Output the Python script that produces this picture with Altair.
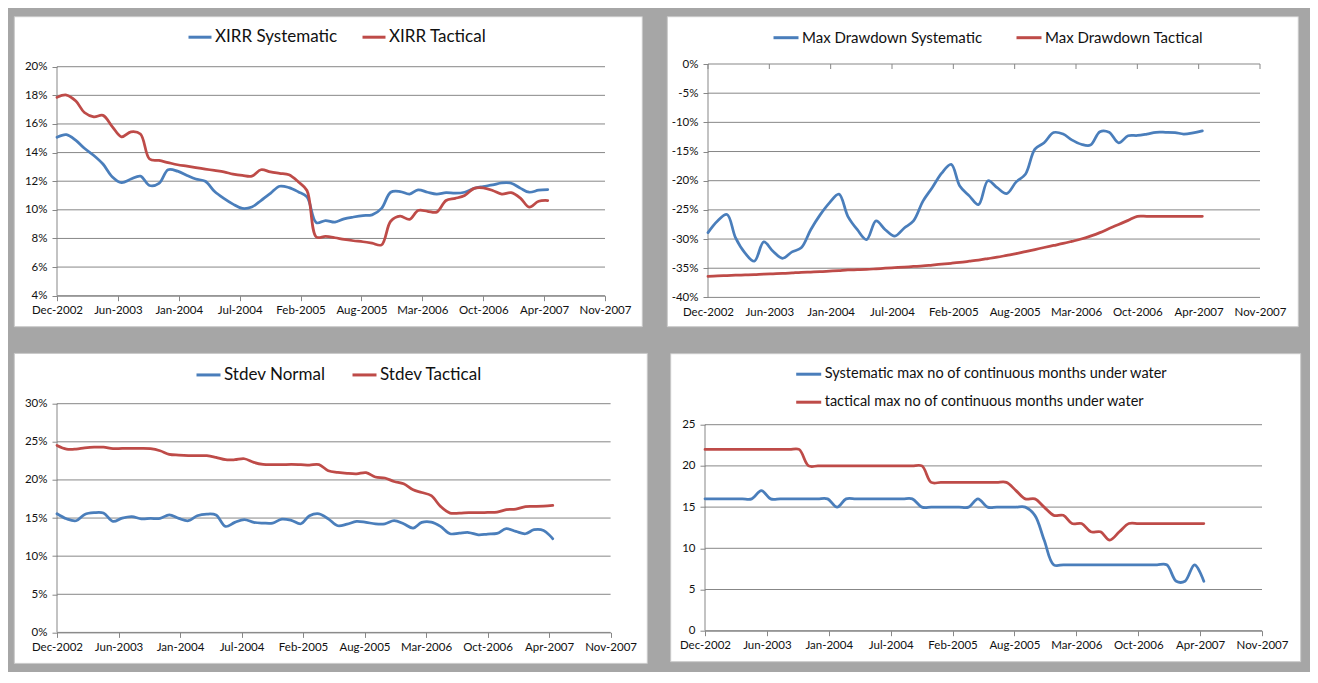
import altair as alt
import pandas as pd

# ---------------- data ----------------
months = pd.date_range("2002-12-01", periods=54, freq="MS")
days = [int((m - months[0]).days) for m in months]

tick_days = list(range(0, 1801, 200))
tick_labels = ["Dec-2002", "Jun-2003", "Jan-2004", "Jul-2004", "Feb-2005",
               "Aug-2005", "Mar-2006", "Oct-2006", "Apr-2007", "Nov-2007"]

xirr_names = ["XIRR Systematic", "XIRR Tactical"]
xirr_systematic = [15.07, 15.25, 14.85, 14.3, 13.8, 13.2, 12.3, 11.9, 12.15, 12.35,
                   11.7, 11.85, 12.8, 12.7, 12.4, 12.15, 12.0, 11.3, 10.8, 10.4,
                   10.1, 10.2, 10.65, 11.15, 11.65, 11.55, 11.25, 10.9, 9.1, 9.25,
                   9.14, 9.37, 9.5, 9.6, 9.65, 10.1, 11.23, 11.28, 11.1, 11.4,
                   11.23, 11.1, 11.2, 11.16, 11.23, 11.5, 11.63, 11.74, 11.88, 11.86,
                   11.5, 11.23, 11.37, 11.42]
xirr_tactical = [17.86, 18.02, 17.6, 16.8, 16.5, 16.6, 15.8, 15.1, 15.45, 15.3,
                 13.55, 13.45, 13.3, 13.15, 13.05, 12.95, 12.85, 12.75, 12.65, 12.5,
                 12.4, 12.35, 12.8, 12.65, 12.55, 12.45, 11.95, 11.35, 8.1, 8.14,
                 8.05, 7.93, 7.84, 7.77, 7.67, 7.55, 9.2, 9.56, 9.33, 9.95,
                 9.9, 9.84, 10.65, 10.8, 11.0, 11.5, 11.53, 11.35, 11.1, 11.2,
                 10.8, 10.19, 10.6, 10.65]

dd_names = ["Max Drawdown Systematic", "Max Drawdown Tactical"]
dd_systematic = [-28.9, -26.9, -25.8, -29.8, -32.4, -33.8, -30.5, -32.1, -33.3, -32.2,
                 -31.5, -28.4, -25.9, -23.8, -22.3, -26.1, -28.4, -30.1, -26.9, -28.4,
                 -29.5, -28.1, -26.9, -23.5, -21.2, -18.7, -17.2, -20.9, -22.6, -24.1,
                 -20.0, -21.2, -22.2, -20.2, -18.9, -14.6, -13.5, -11.75, -12.0, -13.0,
                 -13.75, -13.9, -11.6, -11.7, -13.5, -12.3, -12.25, -12.0, -11.7, -11.7,
                 -11.75, -12.0, -11.8, -11.45]
dd_tactical = [-36.4, -36.3, -36.25, -36.2, -36.15, -36.1, -36.0, -35.95, -35.9, -35.8,
               -35.7, -35.65, -35.6, -35.5, -35.4, -35.3, -35.25, -35.2, -35.1, -35.0,
               -34.9, -34.8, -34.7, -34.6, -34.45, -34.3, -34.15, -34.0, -33.8, -33.6,
               -33.35, -33.1, -32.8, -32.5, -32.15, -31.8, -31.45, -31.1, -30.75, -30.4,
               -30.0, -29.5, -28.9, -28.2, -27.5, -26.8, -26.1, -26.1, -26.1, -26.1,
               -26.1, -26.1, -26.1, -26.1]

sd_names = ["Stdev Normal", "Stdev Tactical"]
sd_normal = [15.56, 14.9, 14.65, 15.48, 15.7, 15.65, 14.56, 15.0, 15.2, 14.9,
             14.95, 14.95, 15.43, 14.95, 14.65, 15.3, 15.52, 15.4, 13.9, 14.43,
             14.8, 14.43, 14.34, 14.34, 14.86, 14.7, 14.25, 15.3, 15.56, 14.9,
             13.99, 14.2, 14.56, 14.43, 14.25, 14.25, 14.65, 14.25, 13.68, 14.43,
             14.47, 13.9, 12.94, 13.03, 13.1, 12.8, 12.9, 12.98, 13.6, 13.25,
             12.94, 13.47, 13.38, 12.28]
sd_tactical = [24.53, 24.05, 24.05, 24.2, 24.3, 24.3, 24.1, 24.15, 24.15, 24.15,
               24.1, 23.83, 23.35, 23.26, 23.2, 23.18, 23.18, 22.96, 22.65, 22.65,
               22.78, 22.3, 22.04, 22.0, 22.0, 22.04, 22.0, 21.95, 22.0, 21.2,
               20.99, 20.86, 20.8, 20.95, 20.38, 20.25, 19.8, 19.5, 18.7, 18.36,
               17.93, 16.53, 15.65, 15.65, 15.7, 15.7, 15.74, 15.78, 16.1, 16.18,
               16.5, 16.53, 16.57, 16.66]

uw_names = ["Systematic max no of continuous months under water",
            "tactical max no of continuous months under water"]
uw_systematic = [16, 16, 16, 16, 16, 16, 17, 16, 16, 16,
                 16, 16, 16, 16, 15, 16, 16, 16, 16, 16,
                 16, 16, 16, 15, 15, 15, 15, 15, 15, 16,
                 15, 15, 15, 15, 15, 14, 11, 8, 8, 8,
                 8, 8, 8, 8, 8, 8, 8, 8, 8, 8,
                 6, 6, 8, 6]
uw_tactical = [22, 22, 22, 22, 22, 22, 22, 22, 22, 22,
               22, 20, 20, 20, 20, 20, 20, 20, 20, 20,
               20, 20, 20, 20, 18, 18, 18, 18, 18, 18,
               18, 18, 18, 17, 16, 16, 15, 14, 14, 13,
               13, 12, 12, 11, 12, 13, 13, 13, 13, 13,
               13, 13, 13, 13]

# ---------------- style ----------------
BLUE = "#4a7ebb"
RED = "#be4b48"
GRID = "#878787"
FONT = "Lato"
TXT = "#111111"

x_label_expr = "[" + ",".join("'%s'" % t for t in tick_labels) + "][round(datum.value / 200)]"


def panel(names, s1, s2, yticks, ylabel_expr, w, h, box, leg,
          top_ticks=False, ydomain=None, ghost_left=None):
    df = pd.DataFrame({
        "day": days + days,
        "value": s1 + s2,
        "series": [names[0]] * len(s1) + [names[1]] * len(s2),
    })
    if ydomain is None:
        ydomain = [yticks[0], yticks[-1]]
    xs = alt.Scale(domain=[0, 1800], nice=False, zero=False)
    ys = alt.Scale(domain=ydomain, nice=False, zero=False)

    ykw = dict(values=yticks, grid=False, domain=False, title=None, tickColor=GRID,
               tickSize=5, labelPadding=5, labelFont=FONT, labelFontSize=11.5,
               labelColor=TXT, zindex=1)
    if ylabel_expr:
        ykw["labelExpr"] = ylabel_expr
    yaxis = alt.Axis(**ykw)

    xkw = dict(values=tick_days, labelExpr=x_label_expr, grid=False, title=None,
               domainColor=GRID, tickColor=GRID, tickSize=5, labelPadding=4,
               labelFont=FONT, labelFontSize=11.5, labelColor=TXT,
               labelFlush=False, labelOverlap=False, zindex=1)
    if top_ticks:
        xkw.update(domain=False, ticks=False, labelPadding=9)
    xaxis = alt.Axis(**xkw)

    layers = []
    if ghost_left is not None:
        layers.append(alt.Chart(pd.DataFrame({"k": [0]})).mark_rect(opacity=0).encode(
            x=alt.value(ghost_left), x2=alt.value(0), y=alt.value(0), y2=alt.value(1)))

    bg = alt.Chart(pd.DataFrame({"k": [0]})).mark_rect(
        fill="white", stroke="#c9c9c9", strokeWidth=1
    ).encode(x=alt.value(box[0]), x2=alt.value(box[1]),
             y=alt.value(box[2]), y2=alt.value(box[3]))
    layers.append(bg)

    grid = alt.Chart(pd.DataFrame({"v": yticks})).mark_rule(
        color=GRID, strokeWidth=1
    ).encode(y=alt.Y("v:Q", scale=ys, axis=yaxis))
    layers.append(grid)

    yline = alt.Chart(pd.DataFrame({"lo": [yticks[0]], "hi": [yticks[-1]]})).mark_rule(
        color=GRID, strokeWidth=1
    ).encode(x=alt.value(0), y=alt.Y("lo:Q", scale=ys, axis=yaxis), y2="hi:Q")
    layers.append(yline)

    if top_ticks:
        tt = alt.Chart(pd.DataFrame({"d": tick_days})).mark_rule(
            color=GRID, strokeWidth=1
        ).encode(x=alt.X("d:Q", scale=xs, axis=xaxis), y=alt.value(0), y2=alt.value(5))
        layers.append(tt)

    legend = alt.Legend(orient="none", title=None, symbolType="stroke",
                        symbolStrokeWidth=3, labelFont=FONT, labelColor=TXT,
                        labelOffset=2, padding=0, labelLimit=600, **leg)

    lines = alt.Chart(df).mark_line(
        interpolate="catmull-rom", strokeWidth=2.75, strokeCap="round", strokeJoin="round"
    ).encode(
        x=alt.X("day:Q", scale=xs, axis=xaxis),
        y=alt.Y("value:Q", scale=ys, axis=yaxis),
        color=alt.Color("series:N", scale=alt.Scale(domain=names, range=[BLUE, RED]),
                        legend=legend),
    )
    layers.append(lines)
    return alt.layer(*layers).properties(width=w, height=h)


# panel 1's view reaches 2.7px above its 20% line so that its top lines up with panel 2
p1 = panel(xirr_names, xirr_systematic, xirr_tactical,
           [4, 6, 8, 10, 12, 14, 16, 18, 20], "datum.value + '%'",
           548, 231.7, (-42.7, 585.3, -47.3, 262.7),
           dict(legendX=130, legendY=-39.8, direction="horizontal",
                symbolSize=529, labelFontSize=17, columnPadding=18),
           ydomain=[4, 20.189])

p2 = panel(dd_names, dd_systematic, dd_tactical,
           [-40, -35, -30, -25, -20, -15, -10, -5, 0], "datum.value + '%'",
           552, 233.4, (-40.7, 590.3, -47.3, 262.7),
           dict(legendX=64, legendY=-40.3, direction="horizontal",
                symbolSize=625, labelFontSize=15, columnPadding=27),
           top_ticks=True)

p3 = panel(sd_names, sd_normal, sd_tactical,
           [0, 5, 10, 15, 20, 25, 30], "datum.value + '%'",
           553.6, 228.7, (-42.7, 590.3, -50.3, 259.7),
           dict(legendX=138, legendY=-42.5, direction="horizontal",
                symbolSize=576, labelFontSize=17, columnPadding=20))

p4 = panel(uw_names, uw_systematic, uw_tactical,
           [0, 5, 10, 15, 20, 25], None,
           557, 206, (-34.3, 595.7, -71, 237),
           dict(legendX=89.7, legendY=-64.5, direction="vertical",
                symbolSize=625, labelFontSize=14.5, rowPadding=7),
           ghost_left=-38.3)

chart = alt.concat(
    p1, p2, p3, p4, columns=2, align="none",
    spacing={"row": 24.7, "column": 18},
).resolve_scale(
    color="independent", x="independent", y="independent"
).properties(
    background="#a6a6a6",
    padding={"left": 5, "top": 8, "right": 8, "bottom": 8},
).configure_view(stroke=None)

chart.save("out.html", embed_options={"renderer": "svg", "actions": False})
